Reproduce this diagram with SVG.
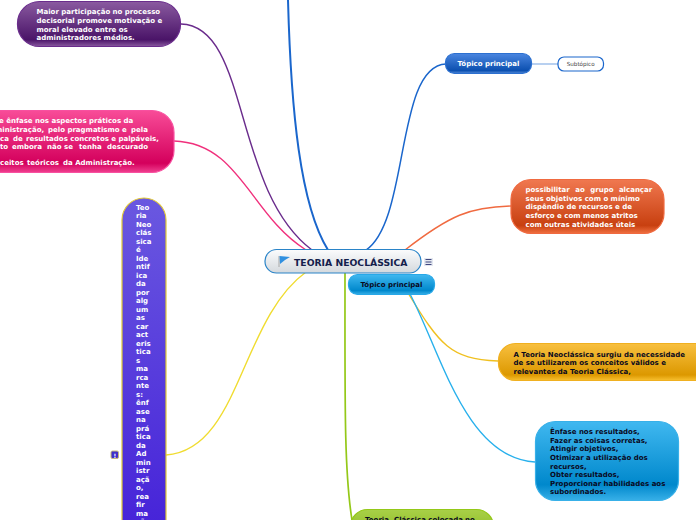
<svg xmlns="http://www.w3.org/2000/svg" width="696" height="520" viewBox="0 0 696 520">
<style>
text{font-family:"DejaVu Sans",Verdana,sans-serif;font-weight:700;font-size:7px}
.w{fill:#fff}.k{fill:#0a0a1e}
.c{fill:none;stroke-width:1.4}
.n{stroke-width:1.2}
</style>
<defs>
<linearGradient id="gp" x1="0" y1="0" x2="0" y2="1"><stop offset="0" stop-color="#8a5aa0"/><stop offset=".85" stop-color="#4a1468"/><stop offset="1" stop-color="#8a5aa0"/></linearGradient>
<linearGradient id="gk" x1="0" y1="0" x2="0" y2="1"><stop offset="0" stop-color="#f84c98"/><stop offset=".85" stop-color="#d4005c"/><stop offset="1" stop-color="#f04090"/></linearGradient>
<linearGradient id="gv" x1="0" y1="0" x2="0" y2="1"><stop offset="0" stop-color="#6a58e0"/><stop offset="1" stop-color="#4420d8"/></linearGradient>
<linearGradient id="gb" x1="0" y1="0" x2="0" y2="1"><stop offset="0" stop-color="#4a86e0"/><stop offset=".85" stop-color="#0c50b0"/><stop offset="1" stop-color="#5088d8"/></linearGradient>
<linearGradient id="gr" x1="0" y1="0" x2="0" y2="1"><stop offset="0" stop-color="#f07850"/><stop offset=".85" stop-color="#c84010"/><stop offset="1" stop-color="#f07040"/></linearGradient>
<linearGradient id="gy" x1="0" y1="0" x2="0" y2="1"><stop offset="0" stop-color="#f8c040"/><stop offset=".85" stop-color="#dc9800"/><stop offset="1" stop-color="#f8c030"/></linearGradient>
<linearGradient id="gc" x1="0" y1="0" x2="0" y2="1"><stop offset="0" stop-color="#40b8f0"/><stop offset=".8" stop-color="#0088cc"/><stop offset="1" stop-color="#38b0e8"/></linearGradient>
<linearGradient id="gg" x1="0" y1="0" x2="0" y2="1"><stop offset="0" stop-color="#a8d048"/><stop offset="1" stop-color="#80b010"/></linearGradient>
<linearGradient id="gm" x1="0" y1="0" x2="0" y2="1"><stop offset="0" stop-color="#fbfcfd"/><stop offset="1" stop-color="#d4d9dd"/></linearGradient>
</defs>
<g id="connectors">
<path class="c" stroke="#1a66cc" style="stroke-width:2" d="M288 0C291 110 300 205 328 250"/>
<path class="c" stroke="#6a2c8c" d="M181 24C250 26 232 190 312 250"/>
<path class="c" stroke="#f0307c" d="M174 141C240 143 250 215 306 250"/>
<path class="c" stroke="#1a66cc" style="stroke-width:1.500" d="M366 250C410 220 395 66 446 64"/>
<path class="c" stroke="#b8d0f0" style="stroke-width:2" d="M531 64H558"/>
<path class="c" stroke="#f06a40" d="M405 250C450 215 470 207 511 206"/>
<path class="c" stroke="#f0c020" d="M408 293C440 345 450 359 498 361"/>
<path class="c" stroke="#28b0ec" d="M410 294C440 350 465 458 535 462"/>
<path class="c" stroke="#f0dc30" d="M166 455C240 450 240 320 306 272"/>
<path class="c" stroke="#94c818" style="stroke-width:1.700" d="M345 272C345 400 344 470 352 520"/>
</g>
<g id="n-purple"><rect class="n" x="17.500" y="1.500" width="163" height="45" rx="22" fill="url(#gp)" stroke="#6a2c8c"/>
<text class="w"><tspan x="36.500" y="14">Maior participação no processo</tspan><tspan x="36.500" y="23">decisorial promove motivação e</tspan><tspan x="36.500" y="31.500">moral elevado entre os</tspan><tspan x="36.500" y="40">administradores médios.</tspan></text></g>
<g id="n-pink"><rect class="n" x="-40" y="110.500" width="214" height="62" rx="22" fill="url(#gk)" stroke="#f850a0"/>
<text class="w"><tspan x="-1" y="123">e ênfase nos aspectos práticos da</tspan><tspan x="-5" y="131.500">ministração,</tspan><tspan x="48" y="131.500">pelo pragmatismo e</tspan><tspan x="131" y="131.500">pela</tspan><tspan x="0" y="140.500">ca</tspan><tspan x="13" y="140.500">de</tspan><tspan x="26" y="140.500">resultados concretos e palpáveis,</tspan><tspan x="0" y="148.500">to</tspan><tspan x="12" y="148.500">embora</tspan><tspan x="47" y="148.500">não</tspan><tspan x="64" y="148.500">se</tspan><tspan x="79" y="148.500">tenha</tspan><tspan x="107" y="148.500">descurado</tspan><tspan x="0" y="165">ceitos</tspan><tspan x="27" y="165">teóricos</tspan><tspan x="63" y="165">da Administração.</tspan></text></g>
<g id="n-violet"><rect class="n" x="122" y="198" width="44" height="350" rx="22" fill="url(#gv)" stroke="#e0c838"/>
<text class="w"><tspan x="136" y="209.700">Teo</tspan><tspan x="136" y="218.200">ria</tspan><tspan x="136" y="226.700">Neo</tspan><tspan x="136" y="235.200">clás</tspan><tspan x="136" y="243.700">sica</tspan><tspan x="136" y="252.200">é</tspan><tspan x="136" y="260.700">Ide</tspan><tspan x="136" y="269.200">ntif</tspan><tspan x="136" y="277.700">ica</tspan><tspan x="136" y="286.200">da</tspan><tspan x="136" y="294.700">por</tspan><tspan x="136" y="303.200">alg</tspan><tspan x="136" y="311.700">um</tspan><tspan x="136" y="320.200">as</tspan><tspan x="136" y="328.700">car</tspan><tspan x="136" y="337.200">act</tspan><tspan x="136" y="345.700">eris</tspan><tspan x="136" y="354.200">tica</tspan><tspan x="136" y="362.700">s</tspan><tspan x="136" y="371.200">ma</tspan><tspan x="136" y="379.700">rca</tspan><tspan x="136" y="388.200">nte</tspan><tspan x="136" y="396.700">s:</tspan><tspan x="136" y="405.200">ênf</tspan><tspan x="136" y="413.700">ase</tspan><tspan x="136" y="422.200">na</tspan><tspan x="136" y="430.700">prá</tspan><tspan x="136" y="439.200">tica</tspan><tspan x="136" y="447.700">da</tspan><tspan x="136" y="456.200">Ad</tspan><tspan x="136" y="464.700">min</tspan><tspan x="136" y="473.200">istr</tspan><tspan x="136" y="481.700">açã</tspan><tspan x="136" y="490.200">o,</tspan><tspan x="136" y="498.700">rea</tspan><tspan x="136" y="507.200">fir</tspan><tspan x="136" y="515.700">ma</tspan><tspan x="136" y="524.200">ção</tspan></text>
<rect x="111" y="451" width="7.500" height="7.500" rx="1.500" fill="#4030c8" stroke="#c8b878"/><text class="w" x="113.500" y="457.500" style="font-size:6px">!</text></g>
<g id="n-blue"><rect class="n" x="445.500" y="53.500" width="86" height="20" rx="9" fill="url(#gb)" stroke="#2c70d0"/>
<text class="w" x="488.500" y="66" text-anchor="middle">Tópico principal</text></g>
<g id="n-sub"><rect x="558" y="57" width="45.500" height="14" rx="6" fill="#fff" stroke="#1a66cc" stroke-width="1.200"/>
<text x="580.700" y="66.300" text-anchor="middle" fill="#444" style="font-size:5.600px;font-weight:400">Subtópico</text></g>
<g id="n-orange"><rect class="n" x="511" y="179.500" width="153" height="54" rx="20" fill="url(#gr)" stroke="#f06a40"/>
<text class="w"><tspan x="525.500" y="192" word-spacing="3">possibilitar ao grupo alcançar</tspan><tspan x="525.500" y="200.500">seus objetivos com o mínimo</tspan><tspan x="525.500" y="209">dispêndio de recursos e de</tspan><tspan x="525.500" y="217.500">esforço e com menos atritos</tspan><tspan x="525.500" y="226.500">com outras atividades úteis</tspan></text></g>
<g id="n-yellow"><rect class="n" x="498.500" y="343.500" width="220" height="37" rx="17" fill="url(#gy)" stroke="#f0b020"/>
<text class="k"><tspan x="513.500" y="356.500">A Teoria Neoclássica surgiu da necessidade</tspan><tspan x="513.500" y="364.500">de se utilizarem os conceitos válidos e</tspan><tspan x="513.500" y="373.500">relevantes da Teoria Clássica,</tspan></text></g>
<g id="n-cyan"><rect class="n" x="535.500" y="421.500" width="143" height="79" rx="20" fill="url(#gc)" stroke="#38b0e8"/>
<text class="k"><tspan x="550" y="434">Ênfase nos resultados,</tspan><tspan x="550" y="443">Fazer as coisas corretas,</tspan><tspan x="550" y="451">Atingir objetivos,</tspan><tspan x="550" y="460">Otimizar a utilização dos</tspan><tspan x="550" y="468.500">recursos,</tspan><tspan x="550" y="477">Obter resultados,</tspan><tspan x="550" y="485.500">Proporcionar habilidades aos</tspan><tspan x="550" y="494">subordinados.</tspan></text></g>
<g id="n-green"><rect class="n" x="350.500" y="509.500" width="143" height="40" rx="17" fill="url(#gg)" stroke="#94c818"/>
<text class="k" y="522"><tspan x="365">Teoria</tspan><tspan x="394">Clássica colocada</tspan><tspan x="465">no</tspan></text></g>
<g id="n-topic2"><rect class="n" x="348.500" y="274.500" width="86" height="20" rx="9" fill="url(#gc)" stroke="#28a8e8"/>
<text class="k" x="391.500" y="287" text-anchor="middle">Tópico principal</text></g>
<g id="n-main"><rect x="265" y="249.500" width="156" height="23.500" rx="11.500" fill="url(#gm)" stroke="#2a84c8" stroke-width="1.200"/>
<path d="M279 256V267" stroke="#a8a8a8" stroke-width="1"/><path d="M279.500 256L290 257L285 260L280 264Z" fill="#3090e0"/>
<text x="294" y="265.500" fill="#14204c" style="font-size:9.250px">TEORIA NEOCLÁSSICA</text>
<rect x="424" y="258" width="9" height="8" fill="#e4e8f0"/><path d="M425.500 259.500H431.500M425.500 262H431.500M425.500 264.500H431.500" stroke="#404880" stroke-width="1"/></g>
</svg>
